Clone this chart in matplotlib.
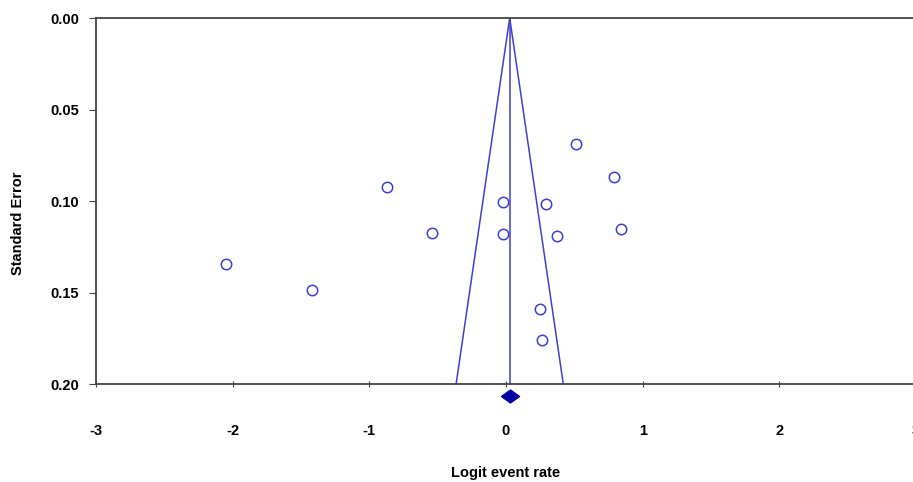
import numpy as np
import matplotlib
matplotlib.use("Agg")
import matplotlib.pyplot as plt

# Studi: logit event rate dan standard error
logit_rate = [0.51, 0.79, -0.87, -0.02, 0.29, -0.54, -0.02, 0.37, 0.84, -2.05, -1.42, 0.25, 0.26]
std_error = [0.0689, 0.0870, 0.0923, 0.1005, 0.1016, 0.1175, 0.1180, 0.1190, 0.1153, 0.1344, 0.1486, 0.1590, 0.1760]
pooled_rate = 0.027

x_ticks = [-3, -2, -1, 0, 1, 2, 3]
y_ticks = [0.00, 0.05, 0.10, 0.15, 0.20]

W, H = 913, 482
fig = plt.figure(figsize=(W / 100, H / 100), dpi=100)
ax = fig.add_axes([96 / W, (H - 384) / H, 820 / W, 366 / H])

blue = "#3f3fcf"
font = {"family": "Liberation Sans", "weight": "bold", "size": 10.5}

# garis funnel (95%)
se_line = np.array([0.0, 0.2])
ax.plot(pooled_rate - 1.96 * se_line, se_line, color=blue, lw=1.1)
ax.plot(pooled_rate + 1.96 * se_line, se_line, color=blue, lw=1.1)
ax.plot([pooled_rate, pooled_rate], [0.0, 0.2], color=blue, lw=1.1)

ax.plot(logit_rate, std_error, "o", mfc="white", mec=blue, mew=1.1, ms=7.5, ls="none")

# diamond ringkasan di bawah sumbu (lebih lebar dari tinggi)
diamond = [(-1, 0), (0, 0.72), (1, 0), (0, -0.72), (-1, 0)]
ax.plot([pooled_rate], [0.2068], marker=diamond, color="#0000a0", ms=13, clip_on=False)

ax.set_xlim(-3, 3)
ax.set_ylim(0.2, 0.0)
ax.set_xticks(x_ticks)
ax.set_yticks(y_ticks)
ax.set_xticklabels([str(t) for t in x_ticks], fontdict=font)
ax.set_yticklabels([f"{t:.2f}" for t in y_ticks], fontdict=font)
ax.tick_params(axis="x", direction="inout", length=4, pad=27, color="#444444")
ax.tick_params(axis="y", direction="out", length=5, pad=7, color="#444444")

for side in ["left", "bottom", "top", "right"]:
    ax.spines[side].set_color("#444444")
    ax.spines[side].set_linewidth(1.3)

fig.text(18 / W, 1 - 223 / H, "Standard Error", rotation=90, ha="center", va="center", **font)
fig.text(506 / W, 1 - 473 / H, "Logit event rate", ha="center", va="center", **font)

plt.savefig("out.png", dpi=100)
plt.close()
